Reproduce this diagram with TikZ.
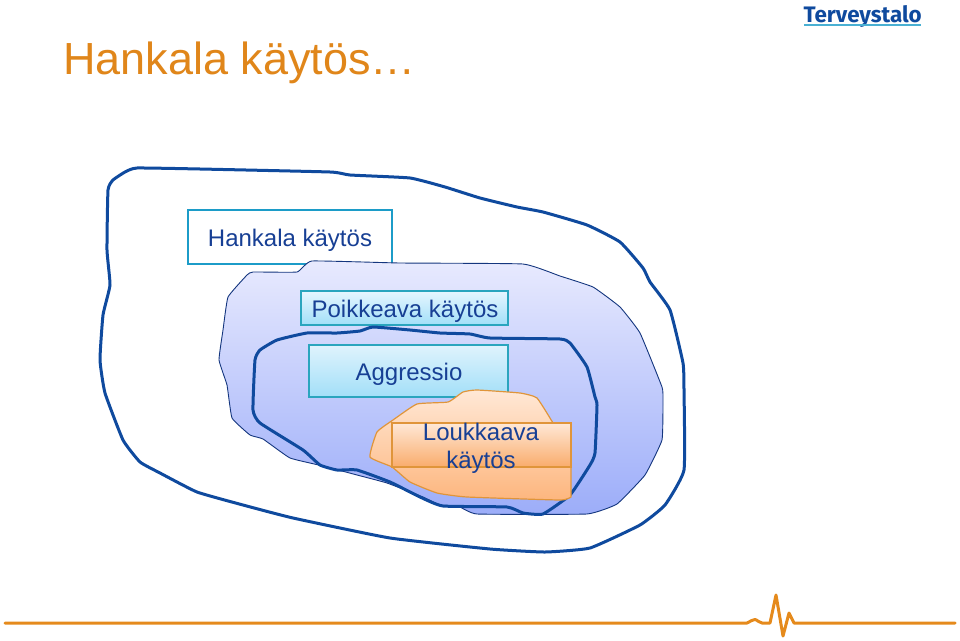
\documentclass[tikz,border=0pt]{standalone}
\usepackage{fontspec}
\setmainfont{Liberation Sans}
\newfontfamily\logofont{Fira Sans}
\definecolor{navy}{HTML}{0F4A9E}
\definecolor{txtblue}{HTML}{173F94}
\definecolor{cyanline}{HTML}{1C9CC8}
\definecolor{tealline}{HTML}{2AA5BE}
\definecolor{orangeline}{HTML}{E0953A}
\definecolor{ecg}{HTML}{E58A1C}
\definecolor{titleor}{HTML}{E0861A}
\definecolor{BlueTop}{HTML}{E8EAFE}
\definecolor{BlueBot}{HTML}{9CADF9}
\definecolor{OrTop}{HTML}{FFE8D6}
\definecolor{OrBot}{HTML}{FDB67E}
\definecolor{BoxBot}{HTML}{A2DFF8}
\definecolor{BoxTopA}{HTML}{E6F6FF}
\definecolor{BoxTopB}{HTML}{DFF3FD}
\definecolor{OrBoxTop}{HTML}{FFE8D6}
\definecolor{OrBoxBot}{HTML}{F9AC6C}
\tikzset{
  handline/.style={draw=navy,line width=3pt,line join=round},
  regionblue/.style={draw=txtblue!85!black,line width=0.9pt,top color=BlueTop,bottom color=BlueBot},
  regionor/.style={draw=orangeline,line width=1.2pt,top color=OrTop,bottom color=OrBot},
  lightbox/.style={draw=tealline,line width=1.2pt,top color=#1,bottom color=BoxBot,inner sep=0pt},
  label/.style={text=txtblue,font=\fontsize{24}{28}\selectfont,inner sep=0pt,align=center},
}
\begin{document}
\begin{tikzpicture}[x=1pt,y=-1pt]
\useasboundingbox (0,0) rectangle (960,640);
% title
\node[anchor=base west,inner sep=0pt,text=titleor,font=\fontsize{45}{50}\selectfont] (title) at (63,74) {Hankala käytös…};
% logo
\node[anchor=base west,inner sep=0pt,text=navy,font=\logofont\bfseries\fontsize{22.4}{26}\selectfont] (logo) at (803.5,22) {Terveystalo};
\fill[cyanline!80!white] (804,23.5) rectangle (921,25.5);
% ecg
\draw[ecg,line width=3pt,line join=round,line cap=round] (5,623) -- (747,623) .. controls (751,621) and (753,619.5) .. (755,619.5) .. controls (757,619.5) and (759,623) .. (762,623) -- (770,623) -- (776,595) -- (783,636) -- (789,613) -- (794,623) -- (955,623);
% top box
\node[draw=cyanline,line width=2.6pt,fill=white,minimum width=204pt,minimum height=54pt,inner sep=0pt] (b1) at (290,237) {};
% blue region
\path[regionblue] plot[smooth cycle,tension=0.2] coordinates {
(297,272)(312,261)(400,263)(523,264)(560,276)(593,287)(620,307)(640,333)(662,387)(663,400)(662,440)(645,475)(617,504)(587,514)(477,514)(458,506)(440,505)(423,497)(387,483)(357,475)(323,466)(290,458)(263,439)(250,435)(232,418)(227,385)(219,360)(223,330)(228,297)(247,275)(253,272)};
% outer hand line
\path[handline] plot[smooth cycle,tension=0.25] coordinates {
(137,168)(200,169)(330,172)(350,175)(410,178)(445,187)(480,198)(517,207)(543,212)(587,225)(620,242)(643,268)(650,282)(670,310)(683,363)(684,390)(684,470)(665,505)(640,525)(590,548)(545,552)(490,549)(390,538)(293,518)(243,505)(197,492)(160,473)(140,462)(123,440)(105,393)(100,360)(103,315)(110,285)(107,250)(108,190)(113,180)(125,172)};
% second box
\node[lightbox=BoxTopA,minimum width=207pt,minimum height=34pt] (b2) at (404.5,308) {};
% inner hand line
\path[handline] plot[smooth cycle,tension=0.25] coordinates {
(255,360)(260,350)(277,340)(307,333)(337,333)(360,331)(373,327)(410,330)(440,333)(470,334)(490,338)(560,339)(570,343)(587,367)(595,397)(597,405)(595,453)(590,465)(570,495)(543,514)(523,513)(507,507)(443,506)(420,497)(390,482)(357,470)(337,470)(320,465)(303,450)(260,423)(253,410)};
% aggressio box
\node[lightbox=BoxTopB,minimum width=199pt,minimum height=52pt] (b3) at (408.5,371) {};
% orange region
\path[regionor] plot[smooth,tension=0.25] coordinates {
(553,423)(537,398)(520,393)(477,390)(463,392)(448,402)(417,404)(393,420)(377,432)(370,457)(392,467)(410,482)(437,493)(467,497)(560,500)(571,497)} -- (571,423) -- cycle;
% orange box
\node[draw=orangeline,line width=1.2pt,top color=OrBoxTop,bottom color=OrBoxBot,minimum width=179pt,minimum height=44pt,inner sep=0pt] (b4) at (481.5,445) {};
% labels
\node[label] (t1) at (290,240) {Hankala käytös};
\node[label] (t2) at (405,311) {Poikkeava käytös};
\node[label] (t3) at (409,374) {Aggressio};
\node[label] (t4) at (481,448) {Loukkaava\\[0pt]käytös};
\end{tikzpicture}
\end{document}
